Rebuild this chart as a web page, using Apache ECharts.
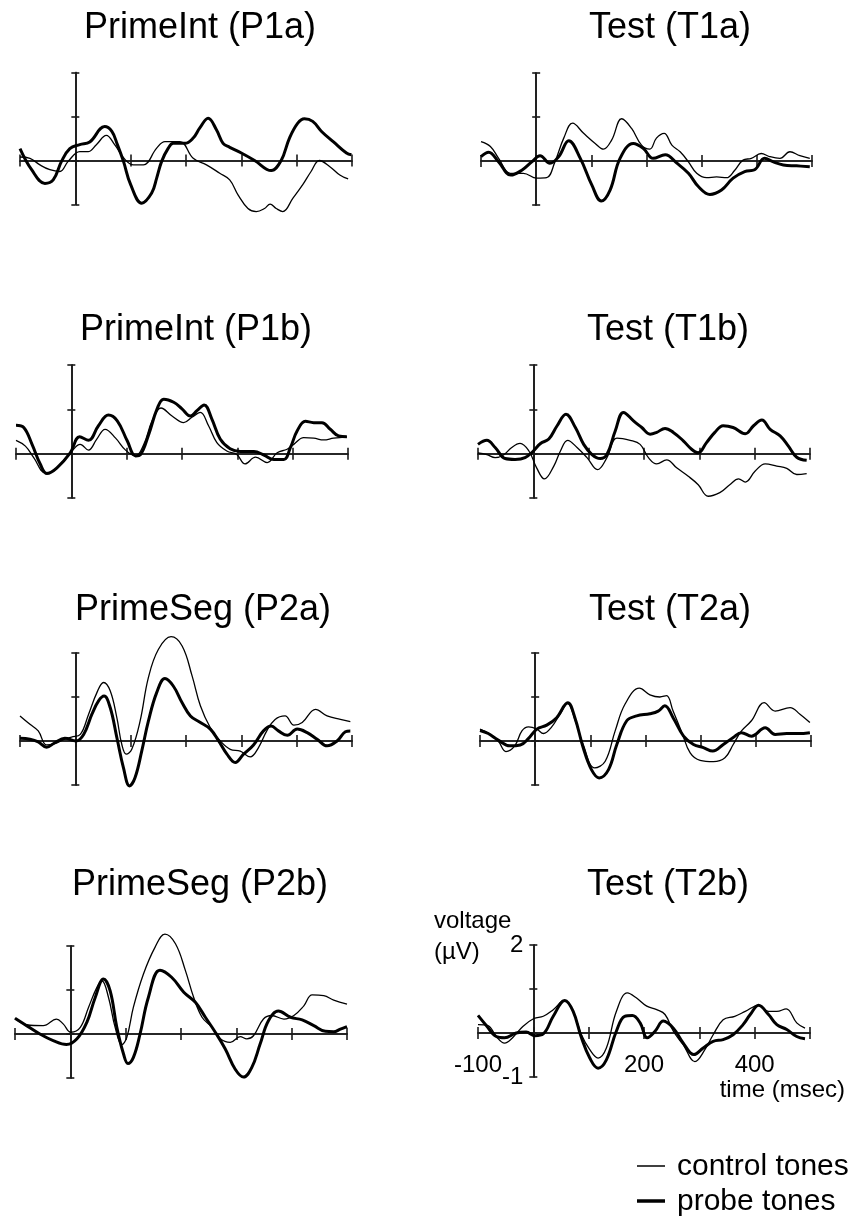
<!DOCTYPE html>
<html>
<head>
<meta charset="utf-8">
<script src="https://cdn.jsdelivr.net/npm/echarts@6/dist/echarts.min.js"></script>
<style>
  html, body { margin: 0; padding: 0; background: #fff; }
  #chart { width: 855px; height: 1222px; }
</style>
</head>
<body>
<div id="chart"></div>
<script>
// ERP waveforms, each point is [time (ms), voltage (µV)]
const p1a_control = [[-100,0.08],[-82,0.05],[-64,-0.10],[-46,-0.21],[-28,-0.25],[-13,-0.02],[8,0.20],[23,0.20],[38,0.36],[56,0.57],[71,0.36],[90,0.02],[105,-0.10],[123,-0.10],[147,0.28],[162,0.43],[189,0.43],[213,0.05],[237,-0.10],[261,-0.29],[279,-0.44],[294,-0.78],[312,-1.09],[327,-1.16],[342,-1.09],[352,-0.99],[363,-1.09],[375,-1.16],[393,-0.86],[411,-0.55],[426,-0.25],[441,0],[460,-0.14],[478,-0.33],[493,-0.42]];
const p1a_probe = [[-100,0.27],[-79,-0.21],[-55,-0.52],[-40,-0.44],[-25,-0.02],[-10,0.27],[8,0.36],[26,0.42],[53,0.77],[66,0.66],[76,0.36],[87,-0.02],[100,-0.55],[120,-0.97],[138,-0.74],[147,-0.40],[156,-0.02],[168,0.28],[177,0.39],[198,0.39],[213,0.51],[225,0.74],[240,0.96],[255,0.70],[267,0.39],[279,0.30],[300,0.17],[324,0],[354,-0.23],[372,0],[387,0.51],[402,0.85],[414,0.95],[429,0.89],[445,0.66],[466,0.43],[490,0.17],[499,0.13]];

const t1a_control = [[-100,0.44],[-83,0.33],[-68,0.06],[-47,-0.28],[-23,-0.28],[1,-0.39],[19,-0.38],[34,-0.02],[50,0.52],[66,0.86],[86,0.63],[107,0.40],[122,0.27],[137,0.48],[155,0.96],[173,0.74],[191,0.36],[206,0.27],[218,0.52],[232,0.63],[246,0.36],[261,0.21],[276,-0.02],[291,-0.28],[309,-0.38],[327,-0.36],[345,-0.38],[360,-0.21],[375,0.02],[390,0.06],[408,0.17],[423,0.10],[442,0.06],[460,0.21],[478,0.12],[496,0.06]];
const t1a_probe = [[-100,0.10],[-86,0.20],[-68,-0.02],[-46,-0.32],[-26,-0.21],[-8,-0.02],[7,0.12],[25,-0.05],[41,0.10],[59,0.46],[80,0.06],[101,-0.55],[118,-0.91],[134,-0.66],[152,0.06],[176,0.40],[194,0.29],[212,0.06],[234,0.14],[255,-0.05],[276,-0.28],[294,-0.58],[315,-0.76],[336,-0.66],[357,-0.39],[378,-0.24],[396,-0.20],[414,0.06],[430,-0.02],[448,-0.09],[472,-0.11],[496,-0.13]];

const p1b_control = [[-100,0.30],[-83,0.17],[-68,-0.09],[-47,-0.43],[-32,-0.39],[-17,-0.20],[1,0.06],[16,0.21],[31,0.08],[46,0.33],[61,0.55],[80,0.35],[98,0.08],[116,-0.05],[131,0.21],[146,0.74],[162,1.03],[182,0.85],[203,0.70],[218,0.82],[233,0.93],[248,0.63],[263,0.25],[281,0.06],[299,-0.02],[314,-0.23],[333,-0.08],[354,-0.20],[372,0.02],[390,0.10],[402,0.21],[420,0.36],[438,0.35],[456,0.31],[474,0.35],[498,0.38]];
const p1b_probe = [[-100,0.64],[-86,0.59],[-71,0.21],[-56,-0.24],[-44,-0.45],[-26,-0.32],[-2,0.02],[15,0.38],[31,0.30],[49,0.63],[67,0.87],[83,0.74],[101,0.29],[116,-0.05],[125,-0.02],[140,0.44],[155,1.01],[167,1.23],[185,1.16],[200,1.01],[215,0.85],[227,0.97],[240,1.10],[254,0.78],[269,0.33],[287,0.11],[305,0.05],[330,0.05],[348,-0.03],[366,-0.13],[384,-0.13],[396,0.14],[408,0.51],[423,0.73],[438,0.70],[453,0.70],[468,0.55],[483,0.40],[498,0.38]];

const t1b_control = [[-100,0.02],[-84,-0.02],[-69,-0.09],[-54,-0.03],[-39,0.14],[-24,0.23],[-8,0.06],[6,-0.32],[20,-0.57],[37,-0.28],[49,0.06],[62,0.30],[79,0.14],[97,-0.09],[116,-0.36],[133,-0.09],[151,0.35],[175,0.30],[193,0.21],[208,-0.09],[223,-0.23],[241,-0.14],[259,-0.32],[280,-0.51],[298,-0.70],[316,-0.96],[337,-0.88],[355,-0.70],[371,-0.57],[383,-0.64],[401,-0.39],[419,-0.23],[440,-0.28],[458,-0.33],[476,-0.47],[494,-0.45]];
const t1b_probe = [[-100,0.21],[-84,0.30],[-69,0.14],[-51,-0.11],[-33,-0.13],[-15,-0.09],[0,0.06],[13,0.23],[28,0.33],[43,0.63],[59,0.89],[76,0.59],[91,0.21],[106,-0.02],[121,-0.11],[133,-0.02],[148,0.51],[163,0.93],[181,0.74],[196,0.59],[211,0.44],[223,0.48],[238,0.57],[253,0.48],[271,0.29],[286,0.10],[298,0.02],[313,0.25],[328,0.48],[343,0.63],[361,0.59],[383,0.45],[398,0.63],[413,0.76],[428,0.55],[446,0.40],[461,0.17],[476,-0.08],[494,-0.15]];

const p2a_control = [[-100,0.57],[-82,0.38],[-67,0.23],[-52,-0.09],[-37,-0.06],[-19,0.04],[-7,0.09],[9,0.15],[24,0.61],[39,1.10],[51,1.33],[63,1.14],[75,0.53],[84,-0.08],[92,-0.30],[102,-0.19],[117,0.45],[132,1.44],[150,2.08],[173,2.37],[193,2.16],[211,1.48],[226,0.80],[244,0.30],[262,0],[280,-0.19],[298,-0.23],[316,-0.36],[331,-0.15],[346,0.23],[361,0.49],[379,0.57],[395,0.36],[410,0.42],[434,0.72],[455,0.57],[479,0.49],[497,0.44]];
const p2a_probe = [[-100,0.06],[-82,0.04],[-67,-0.02],[-52,-0.14],[-37,-0.04],[-19,0.06],[1,0],[15,0.15],[30,0.61],[42,0.91],[52,1.02],[63,0.76],[75,0.08],[87,-0.61],[98,-1.02],[108,-0.83],[120,-0.23],[132,0.45],[147,1.10],[162,1.42],[177,1.25],[193,0.87],[208,0.57],[226,0.42],[244,0.27],[259,0],[274,-0.30],[289,-0.49],[304,-0.30],[322,-0.09],[340,0.23],[354,0.34],[367,0.23],[383,0.13],[401,0.27],[419,0.19],[437,0.04],[455,-0.11],[473,0],[488,0.21],[497,0.23]];

const t2a_control = [[-100,0.27],[-82,0.15],[-67,0],[-53,-0.24],[-37,-0.11],[-24,0.23],[-12,0.32],[3,0.27],[15,0.17],[30,0.32],[45,0.61],[59,0.85],[72,0.49],[87,-0.08],[108,-0.61],[127,-0.46],[145,0.23],[163,0.84],[189,1.20],[208,1.05],[226,1.00],[238,1.03],[250,0.68],[266,0.19],[281,-0.27],[299,-0.44],[323,-0.47],[344,-0.38],[359,-0.08],[374,0.23],[392,0.46],[415,0.87],[435,0.68],[462,0.76],[480,0.61],[498,0.42]];
const t2a_probe = [[-100,0.24],[-85,0.17],[-67,0.02],[-46,-0.11],[-27,-0.09],[-12,0.06],[3,0.27],[21,0.36],[39,0.53],[59,0.87],[72,0.53],[87,-0.15],[102,-0.65],[116,-0.84],[133,-0.65],[148,-0.08],[166,0.46],[184,0.57],[208,0.62],[223,0.68],[235,0.80],[250,0.53],[269,0.11],[287,-0.08],[305,-0.15],[322,-0.23],[341,-0.08],[359,0.08],[374,0.19],[392,0.11],[417,0.30],[435,0.15],[456,0.17],[477,0.17],[498,0.19]];

const p2b_control = [[-100,0.36],[-79,0.21],[-49,0.19],[-25,0.34],[-13,0.23],[1,0.04],[18,0.15],[33,0.61],[48,1.06],[57,1.21],[69,0.83],[81,0.15],[93,-0.24],[102,-0.08],[114,0.61],[132,1.36],[153,1.97],[171,2.27],[190,2.05],[208,1.44],[223,0.83],[238,0.38],[256,0.15],[271,-0.11],[289,-0.19],[307,-0.06],[319,-0.11],[331,-0.04],[349,0.34],[364,0.42],[386,0.34],[404,0.42],[422,0.64],[437,0.89],[458,0.87],[476,0.77],[500,0.68]];
const p2b_probe = [[-100,0.36],[-79,0.19],[-55,0],[-31,-0.15],[-7,-0.24],[12,-0.11],[30,0.27],[45,0.83],[60,1.25],[72,0.98],[84,0.15],[96,-0.45],[104,-0.67],[114,-0.53],[126,0],[141,0.83],[162,1.45],[183,1.29],[205,0.95],[226,0.72],[244,0.38],[262,0.04],[280,-0.34],[298,-0.80],[313,-0.98],[328,-0.76],[343,-0.23],[358,0.30],[376,0.52],[398,0.38],[419,0.32],[440,0.19],[461,0.06],[476,0.05],[488,0.11],[500,0.17]];

const t2b_control = [[-100,0.19],[-82,0.17],[-67,-0.08],[-52,-0.23],[-37,-0.10],[-19,0.15],[1,0.33],[18,0.38],[36,0.53],[56,0.74],[72,0.49],[87,-0.04],[102,-0.38],[117,-0.57],[132,-0.34],[150,0.49],[170,0.91],[186,0.80],[205,0.61],[223,0.53],[238,0.42],[253,0.04],[271,-0.27],[292,-0.65],[310,-0.38],[325,-0.04],[343,0.30],[364,0.38],[383,0.49],[407,0.63],[425,0.49],[440,0.49],[457,0.55],[476,0.23],[491,0.11]];
const t2b_probe = [[-100,0.40],[-85,0.17],[-67,-0.08],[-52,-0.11],[-31,0],[-13,0.02],[3,-0.06],[18,-0.02],[36,0.38],[57,0.74],[72,0.49],[87,-0.11],[102,-0.57],[117,-0.80],[132,-0.61],[150,0.04],[165,0.38],[179,0.40],[193,0.23],[206,-0.11],[220,0.04],[235,0.27],[253,0.11],[271,-0.23],[290,-0.49],[307,-0.34],[325,-0.19],[343,-0.15],[361,-0.04],[379,0.19],[392,0.42],[407,0.63],[425,0.42],[440,0.19],[458,0.08],[476,-0.08],[491,-0.13]];

const panelTitles = ['PrimeInt (P1a)', 'Test (T1a)', 'PrimeInt (P1b)', 'Test (T1b)',
                     'PrimeSeg (P2a)', 'Test (T2a)', 'PrimeSeg (P2b)', 'Test (T2b)'];
const controlSeries = [p1a_control, t1a_control, p1b_control, t1b_control, p2a_control, t2a_control, p2b_control, t2b_control];
const probeSeries = [p1a_probe, t1a_probe, p1b_probe, t1b_probe, p2a_probe, t2a_probe, p2b_probe, t2b_probe];
const seriesNames = ['control tones', 'probe tones'];

// axis ranges and the tick values that carry a label (last panel only)
const timeRange = [-100, 500];
const timeStep = 100;
const voltRange = [-1, 2];
const voltStep = 1;
const timeLabels = [-100, 200, 400];
const voltLabels = [2, -1];

// panel placement on the page (plot area of each panel, and its heading)
const layout = [
  { left: 20,  top: 72.5, width: 332, height: 132, tx: 200, ty: 28 },
  { left: 481, top: 73,   width: 331, height: 132, tx: 670, ty: 28 },
  { left: 16,  top: 365,  width: 332, height: 133, tx: 196, ty: 330 },
  { left: 478, top: 365,  width: 332, height: 133, tx: 668, ty: 330 },
  { left: 20,  top: 653,  width: 332, height: 132, tx: 203, ty: 610 },
  { left: 480, top: 653,  width: 331, height: 132, tx: 670, ty: 610 },
  { left: 15,  top: 946,  width: 332, height: 132, tx: 200, ty: 885 },
  { left: 478, top: 945,  width: 332, height: 132, tx: 668, ty: 885 }
];

const FONT = '"Liberation Sans", Arial, Helvetica, sans-serif';
const AXIS_COLOR = '#1a1a1a';

// where zero sits inside each range (the axes cross at t = 0, V = 0)
const zeroFracV = (0 - voltRange[0]) / (voltRange[1] - voltRange[0]);
const zeroFracT = (0 - timeRange[0]) / (timeRange[1] - timeRange[0]);

const grid = [], xAxis = [], yAxis = [], series = [], graphic = [];

layout.forEach((g, i) => {
  const labelled = i === layout.length - 1;
  grid.push({ left: g.left, top: g.top, width: g.width, height: g.height, containLabel: false, outerBoundsMode: 'none' });

  const lineStyle = { color: AXIS_COLOR, width: 1.6 };
  // two axes per direction so the ticks cross the axis line
  [false, true].forEach(inside => {
    xAxis.push({
      gridIndex: i, type: 'value', position: 'bottom',
      offset: -g.height * zeroFracV,
      min: timeRange[0], max: timeRange[1], interval: timeStep,
      axisLine: { onZero: false, lineStyle },
      axisTick: { show: true, inside, length: 6, lineStyle },
      axisLabel: {
        show: labelled && !inside, margin: 20, fontSize: 24, color: '#000', fontFamily: FONT,
        formatter: v => timeLabels.includes(v) ? String(v) : ''
      },
      splitLine: { show: false }
    });
    yAxis.push({
      gridIndex: i, type: 'value', position: 'left',
      offset: -g.width * zeroFracT,
      min: voltRange[0], max: voltRange[1], interval: voltStep,
      axisLine: { onZero: false, lineStyle },
      axisTick: { show: true, inside, length: 4, lineStyle },
      axisLabel: {
        show: labelled && !inside, margin: 10, fontSize: 24, color: '#000', fontFamily: FONT,
        formatter: v => voltLabels.includes(v) ? String(v) : ''
      },
      splitLine: { show: false }
    });
  });

  series.push({
    type: 'line', name: seriesNames[0], xAxisIndex: 2 * i, yAxisIndex: 2 * i,
    data: controlSeries[i], smooth: 0.4, symbol: 'none', silent: true, clip: false,
    lineStyle: { color: '#000', width: 1.3 }, z: 3
  });
  series.push({
    type: 'line', name: seriesNames[1], xAxisIndex: 2 * i, yAxisIndex: 2 * i,
    data: probeSeries[i], smooth: 0.4, symbol: 'none', silent: true, clip: false,
    lineStyle: { color: '#000', width: 3 }, z: 4
  });

  graphic.push({
    type: 'text', x: g.tx, y: g.ty,
    style: { text: panelTitles[i], fontSize: 36, fontFamily: FONT, fill: '#000',
             textAlign: 'center', textVerticalAlign: 'middle', align: 'center', verticalAlign: 'middle' }
  });
});

// axis captions on the last panel
const caption = (text, x, y, align) => ({
  type: 'text', x, y,
  style: { text, fontSize: 24, fontFamily: FONT, fill: '#000',
           textAlign: align, textVerticalAlign: 'middle', align, verticalAlign: 'middle' }
});
graphic.push(caption('voltage', 434, 921, 'left'));
graphic.push(caption('(µV)', 434, 952, 'left'));
graphic.push(caption('time (msec)', 845, 1090, 'right'));

// key
const keyWidths = [1.5, 3.5];
const keyRows = [1166, 1201];
seriesNames.forEach((name, k) => {
  graphic.push({ type: 'line', shape: { x1: 637, y1: keyRows[k], x2: 665, y2: keyRows[k] },
                 style: { stroke: '#000', lineWidth: keyWidths[k] } });
  graphic.push({ type: 'text', x: 677, y: keyRows[k] + 1,
                 style: { text: name, fontSize: 30, fontFamily: FONT, fill: '#000',
                          textAlign: 'left', textVerticalAlign: 'middle', align: 'left', verticalAlign: 'middle' } });
});

const chart = echarts.init(document.getElementById('chart'), null, { renderer: 'canvas' });
chart.setOption({
  backgroundColor: '#fff',
  animation: false,
  grid, xAxis, yAxis, series, graphic
});
</script>
</body>
</html>
